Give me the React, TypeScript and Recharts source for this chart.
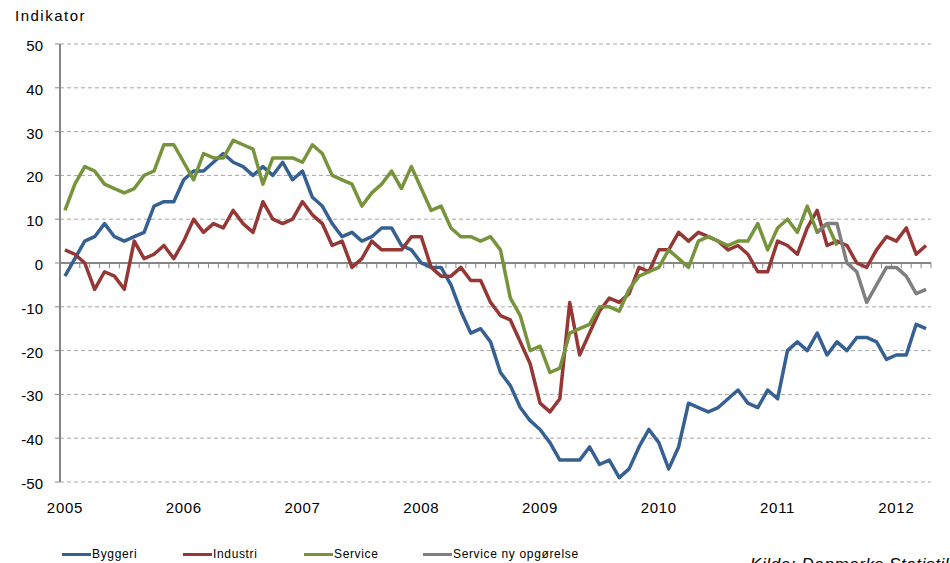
import React from 'react';
import { LineChart, Line, XAxis, YAxis, CartesianGrid, ReferenceLine } from 'recharts';

// monthly, Jan 2005 .. Apr 2012
const yearLabels = ['2005', '2006', '2007', '2008', '2009', '2010', '2011', '2012'];

const byggeri = [
  -3, 1, 5, 6, 9, 6, 5, 6, 7, 13, 14, 14,
  19, 21, 21, 23, 25, 23, 22, 20, 22, 20, 23, 19,
  21, 15, 13, 9, 6, 7, 5, 6, 8, 8, 4, 3,
  0, -1, -1, -5, -11, -16, -15, -18, -25, -28, -33, -36,
  -38, -41, -45, -45, -45, -42, -46, -45, -49, -47, -42, -38,
  -41, -47, -42, -32, -33, -34, -33, -31, -29, -32, -33, -29,
  -31, -20, -18, -20, -16, -21, -18, -20, -17, -17, -18, -22,
  -21, -21, -14, -15,
];

const industri = [
  3, 2, 0, -6, -2, -3, -6, 5, 1, 2, 4, 1,
  5, 10, 7, 9, 8, 12, 9, 7, 14, 10, 9, 10,
  14, 11, 9, 4, 5, -1, 1, 5, 3, 3, 3, 6,
  6, -1, -3, -3, -1, -4, -4, -9, -12, -13, -18, -23,
  -32, -34, -31, -9, -21, -16, -11, -8, -9, -7, -1, -2,
  3, 3, 7, 5, 7, 6, 5, 3, 4, 2, -2, -2,
  5, 4, 2, 8, 12, 4, 5, 4, 0, -1, 3, 6,
  5, 8, 2, 4,
];

// old method, ends Jul 2011
const service = [
  12, 18, 22, 21, 18, 17, 16, 17, 20, 21, 27, 27,
  23, 19, 25, 24, 24, 28, 27, 26, 18, 24, 24, 24,
  23, 27, 25, 20, 19, 18, 13, 16, 18, 21, 17, 22,
  17, 12, 13, 8, 6, 6, 5, 6, 3, -8, -12, -20,
  -19, -25, -24, -16, -15, -14, -10, -10, -11, -6, -3, -2,
  -1, 3, 1, -1, 5, 6, 5, 4, 5, 5, 9, 3,
  8, 10, 7, 13, 7, 9, 4,
];

// new method, May 2011 .. Apr 2012
const serviceNyStart = 76;
const serviceNy = [7, 9, 9, 0, -2, -9, -5, -1, -1, -3, -7, -6];

const yTicks = [-50, -40, -30, -20, -10, 0, 10, 20, 30, 40, 50];
const yearTicks = yearLabels.map((_, k) => k * 12);
const boundaries = [...byggeri.map((_, i) => i - 0.5), byggeri.length - 0.5];

const data = byggeri.map((b, i) => ({
  i,
  byggeri: b,
  industri: industri[i],
  service: i < service.length ? service[i] : null,
  serviceNy: i >= serviceNyStart ? serviceNy[i - serviceNyStart] : null,
}));

const series = [
  { key: 'byggeri', name: 'Byggeri', color: '#366092' },
  { key: 'industri', name: 'Industri', color: '#953735' },
  { key: 'service', name: 'Service', color: '#77933C' },
  { key: 'serviceNy', name: 'Service ny opgørelse', color: '#7F7F7F' },
];
const legendLeft = [62, 183, 304, 423];

const font = '"Liberation Sans", Arial, sans-serif';

const YTick = ({ x, y, payload }: any) => (
  <text x={x} y={y + 7} textAnchor="end" fontSize={15} fill="#000" fontFamily={font}>
    {payload.value}
  </text>
);

const XTick = ({ x, y, payload }: any) => (
  <text
    x={x}
    y={y + 23}
    textAnchor="middle"
    fontSize={15}
    fill="#000"
    fontFamily={font}
    style={{ letterSpacing: 0.7 }}
  >
    {yearLabels[payload.value / 12]}
  </text>
);

export default function App() {
  return (
    <div
      style={{
        position: 'absolute',
        left: 0,
        top: 0,
        width: 950,
        height: 563,
        overflow: 'hidden',
        background: '#fff',
        fontFamily: font,
      }}
    >
      <div
        style={{
          position: 'absolute',
          left: 15,
          top: 8,
          fontSize: 15,
          lineHeight: 1,
          letterSpacing: 1.5,
        }}
      >
        Indikator
      </div>

      <LineChart width={950} height={563} data={data} margin={{ top: 44, right: 19, bottom: 41, left: 10 }}>
        <CartesianGrid vertical={false} stroke="#A6A6A6" strokeDasharray="4 3" />
        <XAxis
          dataKey="i"
          type="number"
          domain={[-0.5, byggeri.length - 0.5]}
          ticks={yearTicks}
          interval={0}
          axisLine={false}
          tickLine={false}
          tickSize={6}
          tickMargin={2}
          height={40}
          tick={<XTick />}
        />
        <YAxis
          domain={[-50, 50]}
          ticks={yTicks}
          interval={0}
          width={50}
          axisLine={{ stroke: '#868686', strokeWidth: 2 }}
          tickLine={{ stroke: '#868686' }}
          tickSize={5}
          tickMargin={12}
          tick={<YTick />}
        />
        <ReferenceLine y={0} stroke="#868686" strokeWidth={2} />
        {boundaries.map((b) => (
          <ReferenceLine
            key={b}
            segment={[
              { x: b, y: 0 },
              { x: b, y: -1.2 },
            ]}
            stroke="#868686"
            strokeWidth={1}
          />
        ))}
        {series.map((s) => (
          <Line
            key={s.key}
            type="linear"
            dataKey={s.key}
            name={s.name}
            stroke={s.color}
            strokeWidth={3.5}
            strokeLinejoin="round"
            dot={false}
            activeDot={false}
            connectNulls={false}
            isAnimationActive={false}
          />
        ))}
      </LineChart>

      {series.map((s, k) => (
        <div
          key={s.key}
          style={{
            position: 'absolute',
            left: legendLeft[k],
            top: 547,
            height: 14,
            display: 'flex',
            alignItems: 'center',
            fontSize: 12,
            lineHeight: '14px',
            letterSpacing: 0.65,
            whiteSpace: 'nowrap',
          }}
        >
          <span style={{ display: 'inline-block', width: 29, height: 3, background: s.color, marginRight: 1 }} />
          <span>{s.name}</span>
        </div>
      ))}

      <div
        style={{
          position: 'absolute',
          left: 750,
          top: 556,
          fontSize: 17,
          lineHeight: 1,
          fontStyle: 'italic',
          letterSpacing: 0.6,
          whiteSpace: 'nowrap',
        }}
      >
        Kilde: Danmarks Statistik
      </div>
    </div>
  );
}
